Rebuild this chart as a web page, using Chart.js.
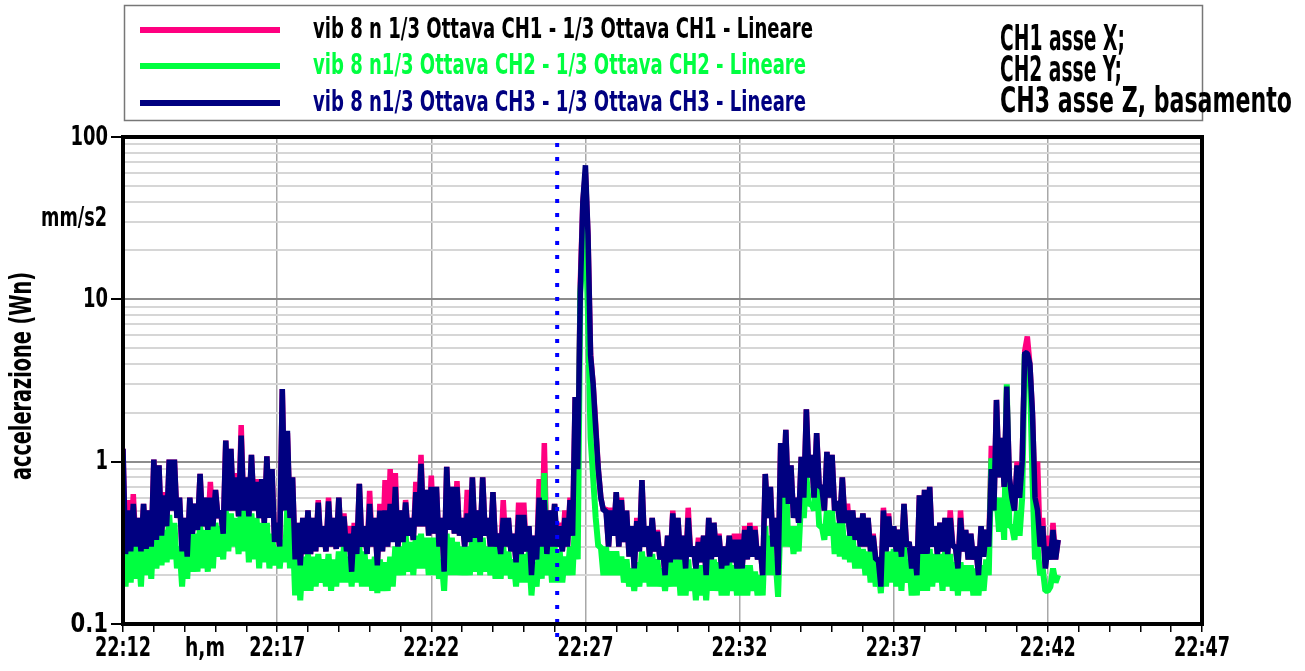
<!DOCTYPE html>
<html>
<head>
<meta charset="utf-8">
<script src="https://cdn.jsdelivr.net/npm/chart.js@4.4.1/dist/chart.umd.min.js"></script>
<style>
  html, body { margin: 0; padding: 0; background: #fff; }
  #wrap { position: relative; width: 1305px; height: 671px; }
</style>
</head>
<body>
<div id="wrap"><canvas id="chart"></canvas></div>
<script>
// campionamento: un valore ogni 5 s a partire dalle 22:12:00
const STEP_SEC = 5;
const MARKER_SEC = 845; // linea tratteggiata ~22:26:05

// CH1 asse X (mm/s2), una riga per minuto
const ch1 = [
  1.2, 0.27, 0.58, 0.28, 0.63, 0.3, 0.45, 0.28, 0.55, 0.29, 0.5, 0.3,
  1.03, 0.33, 0.95, 0.35, 0.65, 0.4, 1.03, 0.5, 1.03, 0.45, 0.6, 0.28,
  0.45, 0.26, 0.6, 0.36, 0.55, 0.38, 0.84, 0.4, 0.6, 0.38, 0.75, 0.4,
  0.67, 0.45, 0.5, 0.36, 1.35, 0.5, 1.2, 0.5, 0.85, 0.46, 1.68, 0.5,
  0.8, 0.46, 1.1, 0.5, 0.78, 0.45, 0.78, 0.42, 1.08, 0.45, 0.9, 0.32,
  0.42, 0.3, 2.8, 0.5, 1.5, 0.45, 0.8, 0.25, 0.42, 0.23, 0.45, 0.27,
  0.5, 0.27, 0.45, 0.28, 0.58, 0.3, 0.4, 0.28, 0.6, 0.3, 0.45, 0.29,
  0.6, 0.3, 0.48, 0.28, 0.4, 0.21, 0.42, 0.27, 0.73, 0.3, 0.4, 0.27,
  0.66, 0.3, 0.45, 0.23, 0.55, 0.28, 0.77, 0.3, 0.9, 0.32, 0.85, 0.3,
  0.5, 0.32, 0.58, 0.35, 0.45, 0.33, 0.75, 0.4, 1.1, 0.4, 0.67, 0.35,
  0.82, 0.36, 0.7, 0.3, 0.45, 0.21, 0.93, 0.38, 0.7, 0.36, 0.76, 0.35,
  0.45, 0.3, 0.67, 0.32, 0.8, 0.34, 0.5, 0.32, 0.8, 0.35, 0.45, 0.3,
  0.65, 0.3, 0.36, 0.27, 0.58, 0.3, 0.45, 0.28, 0.36, 0.24, 0.56, 0.27,
  0.56, 0.28, 0.4, 0.2, 0.35, 0.25, 0.78, 0.3, 1.3, 0.27, 0.5, 0.3,
  0.55, 0.3, 0.42, 0.28, 0.5, 0.3, 0.6, 0.35, 2.5, 0.9, 12.6, 40,
  60, 25, 4.6, 3.0, 1.7, 0.9, 0.6, 0.5, 0.52, 0.3, 0.52, 0.35,
  0.65, 0.3, 0.6, 0.32, 0.5, 0.26, 0.4, 0.22, 0.45, 0.28, 0.77, 0.3,
  0.4, 0.26, 0.45, 0.28, 0.38, 0.25, 0.3, 0.2, 0.35, 0.24, 0.5, 0.25,
  0.45, 0.25, 0.35, 0.22, 0.52, 0.26, 0.3, 0.22, 0.34, 0.24, 0.35, 0.2,
  0.45, 0.25, 0.42, 0.26, 0.36, 0.22, 0.3, 0.23, 0.35, 0.24, 0.36, 0.22,
  0.36, 0.22, 0.4, 0.25, 0.42, 0.26, 0.4, 0.25, 0.3, 0.2, 0.84, 0.45,
  0.7, 0.3, 0.45, 0.2, 1.3, 0.6, 1.57, 0.55, 0.95, 0.45, 0.6, 0.42,
  1.07, 0.6, 2.1, 0.8, 1.1, 0.6, 1.5, 0.7, 0.7, 0.5, 1.15, 0.6,
  1.1, 0.5, 0.57, 0.42, 0.8, 0.42, 0.55, 0.35, 0.5, 0.33, 0.45, 0.3,
  0.48, 0.3, 0.45, 0.28, 0.36, 0.25, 0.25, 0.17, 0.52, 0.28, 0.48, 0.3,
  0.4, 0.28, 0.38, 0.26, 0.55, 0.3, 0.32, 0.22, 0.3, 0.2, 0.62, 0.27,
  0.67, 0.27, 0.7, 0.3, 0.4, 0.27, 0.42, 0.28, 0.45, 0.27, 0.5, 0.3,
  0.3, 0.22, 0.5, 0.28, 0.38, 0.25, 0.36, 0.25, 0.3, 0.2, 0.4, 0.26,
  0.38, 0.3, 1.25, 0.5, 2.4, 0.8, 1.4, 0.7, 2.9, 0.8, 0.6, 0.5,
  1.0, 0.6, 1.0, 4.8, 5.9, 4.0, 2.0, 0.6, 1.0, 0.3, 0.45, 0.22,
  0.35, 0.25, 0.42, 0.25, 0.33
];

// CH2 asse Y
const ch2 = [
  0.38, 0.17, 0.33, 0.18, 0.36, 0.19, 0.3, 0.17, 0.36, 0.2, 0.33, 0.19,
  0.38, 0.22, 0.36, 0.23, 0.38, 0.24, 0.47, 0.25, 0.42, 0.22, 0.3, 0.17,
  0.3, 0.19, 0.38, 0.21, 0.36, 0.21, 0.42, 0.22, 0.38, 0.21, 0.4, 0.22,
  0.42, 0.26, 0.4, 0.25, 0.5, 0.28, 0.48, 0.3, 0.45, 0.27, 0.55, 0.28,
  0.5, 0.24, 0.48, 0.25, 0.45, 0.22, 0.42, 0.24, 0.42, 0.22, 0.36, 0.23,
  0.3, 0.22, 0.33, 0.24, 0.55, 0.22, 0.4, 0.15, 0.28, 0.14, 0.26, 0.16,
  0.27, 0.16, 0.26, 0.17, 0.27, 0.18, 0.25, 0.17, 0.27, 0.16, 0.25, 0.17,
  0.28, 0.18, 0.3, 0.18, 0.26, 0.17, 0.3, 0.18, 0.3, 0.17, 0.28, 0.17,
  0.25, 0.16, 0.26, 0.155, 0.25, 0.16, 0.24, 0.16, 0.26, 0.17, 0.3, 0.2,
  0.3, 0.2, 0.36, 0.21, 0.32, 0.2, 0.35, 0.22, 0.36, 0.22, 0.34, 0.2,
  0.34, 0.2, 0.34, 0.19, 0.25, 0.16, 0.36, 0.2, 0.34, 0.2, 0.32, 0.2,
  0.3, 0.2, 0.3, 0.2, 0.36, 0.21, 0.34, 0.2, 0.34, 0.21, 0.3, 0.2,
  0.3, 0.19, 0.3, 0.19, 0.3, 0.2, 0.28, 0.19, 0.25, 0.17, 0.28, 0.18,
  0.27, 0.18, 0.28, 0.15, 0.24, 0.17, 0.3, 0.19, 0.85, 0.2, 0.3, 0.18,
  0.3, 0.18, 0.28, 0.18, 0.26, 0.2, 0.3, 0.2, 0.45, 0.25, 10.9, 20,
  30, 8, 1.4, 0.8, 0.45, 0.3, 0.3, 0.2, 0.3, 0.2, 0.28, 0.2,
  0.28, 0.2, 0.26, 0.18, 0.25, 0.17, 0.22, 0.16, 0.24, 0.17, 0.28, 0.18,
  0.26, 0.17, 0.27, 0.17, 0.25, 0.17, 0.22, 0.16, 0.24, 0.17, 0.26, 0.17,
  0.25, 0.15, 0.25, 0.15, 0.25, 0.16, 0.22, 0.14, 0.23, 0.15, 0.23, 0.14,
  0.25, 0.16, 0.25, 0.16, 0.24, 0.15, 0.23, 0.15, 0.24, 0.16, 0.23, 0.15,
  0.22, 0.15, 0.23, 0.15, 0.23, 0.16, 0.21, 0.15, 0.2, 0.15, 0.4, 0.2,
  0.35, 0.2, 0.25, 0.147, 0.5, 0.3, 0.81, 0.3, 0.4, 0.27, 0.4, 0.28,
  0.6, 0.45, 0.82, 0.54, 0.55, 0.5, 0.8, 0.4, 0.4, 0.33, 0.5, 0.35,
  0.5, 0.27, 0.42, 0.26, 0.42, 0.25, 0.35, 0.24, 0.35, 0.22, 0.3, 0.22,
  0.29, 0.2, 0.28, 0.18, 0.28, 0.17, 0.22, 0.155, 0.28, 0.17, 0.28, 0.18,
  0.29, 0.17, 0.28, 0.16, 0.3, 0.18, 0.25, 0.15, 0.22, 0.15, 0.28, 0.16,
  0.27, 0.16, 0.29, 0.17, 0.27, 0.18, 0.27, 0.16, 0.28, 0.17, 0.27, 0.16,
  0.24, 0.15, 0.24, 0.16, 0.23, 0.16, 0.23, 0.15, 0.22, 0.15, 0.23, 0.16,
  0.25, 0.2, 1.05, 0.5, 0.6, 0.37, 0.6, 0.33, 3.0, 0.4, 0.4, 0.33,
  0.5, 0.35, 0.6, 4.6, 4.0, 3.5, 0.8, 0.25, 0.3, 0.2, 0.22, 0.16,
  0.16, 0.17, 0.22, 0.18, 0.2
];

// CH3 asse Z, basamento
const ch3 = [
  1.2, 0.27, 0.5, 0.28, 0.55, 0.3, 0.45, 0.28, 0.55, 0.29, 0.5, 0.3,
  1.03, 0.33, 0.95, 0.35, 0.62, 0.4, 1.03, 0.5, 1.03, 0.45, 0.6, 0.28,
  0.45, 0.26, 0.6, 0.36, 0.55, 0.38, 0.84, 0.4, 0.6, 0.38, 0.6, 0.4,
  0.67, 0.45, 0.5, 0.36, 1.35, 0.5, 1.2, 0.5, 0.8, 0.46, 1.45, 0.5,
  0.8, 0.46, 1.1, 0.5, 0.75, 0.45, 0.78, 0.42, 1.08, 0.45, 0.9, 0.32,
  0.42, 0.3, 2.8, 0.5, 1.55, 0.45, 0.8, 0.25, 0.42, 0.23, 0.45, 0.27,
  0.5, 0.27, 0.45, 0.28, 0.56, 0.3, 0.4, 0.28, 0.57, 0.3, 0.45, 0.29,
  0.6, 0.3, 0.46, 0.28, 0.36, 0.21, 0.4, 0.27, 0.73, 0.3, 0.4, 0.27,
  0.55, 0.3, 0.45, 0.23, 0.5, 0.28, 0.5, 0.3, 0.55, 0.32, 0.7, 0.3,
  0.5, 0.32, 0.56, 0.35, 0.45, 0.33, 0.65, 0.4, 0.97, 0.4, 0.67, 0.35,
  0.7, 0.36, 0.7, 0.3, 0.45, 0.21, 0.93, 0.38, 0.7, 0.36, 0.7, 0.35,
  0.45, 0.3, 0.48, 0.32, 0.8, 0.34, 0.5, 0.32, 0.8, 0.35, 0.45, 0.3,
  0.65, 0.3, 0.36, 0.27, 0.45, 0.3, 0.45, 0.28, 0.36, 0.24, 0.47, 0.27,
  0.47, 0.28, 0.4, 0.2, 0.35, 0.25, 0.6, 0.3, 0.58, 0.27, 0.5, 0.3,
  0.55, 0.3, 0.4, 0.28, 0.45, 0.3, 0.58, 0.35, 2.5, 0.9, 11, 40,
  67, 25, 4.5, 3.0, 1.6, 0.9, 0.6, 0.5, 0.5, 0.3, 0.5, 0.35,
  0.65, 0.3, 0.58, 0.32, 0.5, 0.26, 0.4, 0.22, 0.43, 0.28, 0.77, 0.3,
  0.4, 0.26, 0.45, 0.28, 0.37, 0.25, 0.3, 0.2, 0.35, 0.24, 0.48, 0.25,
  0.45, 0.25, 0.35, 0.22, 0.45, 0.26, 0.3, 0.22, 0.32, 0.24, 0.35, 0.2,
  0.45, 0.25, 0.42, 0.26, 0.35, 0.22, 0.3, 0.23, 0.35, 0.24, 0.33, 0.22,
  0.33, 0.22, 0.38, 0.25, 0.4, 0.26, 0.38, 0.25, 0.3, 0.2, 0.84, 0.45,
  0.7, 0.3, 0.45, 0.2, 1.3, 0.6, 1.57, 0.55, 0.95, 0.45, 0.6, 0.42,
  1.07, 0.6, 2.1, 0.8, 1.1, 0.6, 1.5, 0.7, 0.7, 0.5, 1.15, 0.6,
  1.1, 0.5, 0.57, 0.42, 0.8, 0.42, 0.5, 0.35, 0.5, 0.33, 0.45, 0.3,
  0.48, 0.3, 0.45, 0.28, 0.35, 0.25, 0.25, 0.17, 0.5, 0.28, 0.46, 0.3,
  0.4, 0.28, 0.38, 0.26, 0.55, 0.3, 0.32, 0.22, 0.3, 0.2, 0.62, 0.27,
  0.67, 0.27, 0.7, 0.3, 0.4, 0.27, 0.42, 0.28, 0.45, 0.27, 0.45, 0.3,
  0.3, 0.22, 0.45, 0.28, 0.38, 0.25, 0.36, 0.25, 0.3, 0.2, 0.4, 0.26,
  0.38, 0.3, 0.9, 0.5, 2.4, 0.8, 1.4, 0.7, 2.9, 0.8, 0.6, 0.5,
  0.95, 0.6, 1.0, 4.7, 4.65, 4.0, 2.0, 0.6, 0.5, 0.3, 0.4, 0.22,
  0.3, 0.25, 0.38, 0.25, 0.33
];

// asse y (log): linee di griglia e valori etichettati
const yGrid = [
  0.1, 0.2, 0.3, 0.4, 0.5, 0.6, 0.7, 0.8, 0.9,
  1, 2, 3, 4, 5, 6, 7, 8, 9,
  10, 20, 30, 40, 50, 60, 70, 80, 90, 100
];
const yLabels = [0.1, 1, 10, 100];

// asse x: secondi dall'inizio delle etichette ogni 5 minuti
const xTickSec = [0, 300, 600, 900, 1200, 1500, 1800, 2100];
const xLabels = ["22:12", "22:17", "22:22", "22:27", "22:32", "22:37", "22:42", "22:47"];

const legendLabels = [
  "vib 8 n 1/3 Ottava CH1 - 1/3 Ottava CH1 - Lineare",
  "vib 8 n1/3 Ottava CH2 - 1/3 Ottava CH2 - Lineare",
  "vib 8 n1/3 Ottava CH3 - 1/3 Ottava CH3 - Lineare"
];
const noteLabels = ["CH1 asse X;", "CH2 asse Y;", "CH3 asse Z, basamento"];

const COLORS = ["#ff0080", "#00ff40", "#000080"];
const TEXT_COLORS = ["#000000", "#00ff40", "#000080"];
const FONT = '"DejaVu Sans Condensed", "DejaVu Sans", sans-serif';

function toPoints(arr) {
  return arr.map((v, i) => ({ x: i * STEP_SEC, y: v }));
}

function isMajor(v) {
  return yLabels.some((m) => Math.abs(m - v) < 1e-9);
}

// cornice, linea tratteggiata, legenda, etichette
const overlay = {
  id: "overlay",
  afterDatasetsDraw(chart) {
    const { ctx, chartArea: a, scales } = chart;
    const mx = scales.x.getPixelForValue(MARKER_SEC);

    ctx.save();
    ctx.strokeStyle = "#0000ff";
    ctx.lineWidth = 4;
    ctx.setLineDash([4, 10]);
    ctx.beginPath();
    ctx.moveTo(mx, a.top + 6);
    ctx.lineTo(mx, a.bottom + 16);
    ctx.stroke();
    ctx.setLineDash([]);

    ctx.strokeStyle = "#000";
    ctx.lineWidth = 4;
    ctx.strokeRect(a.left, a.top, a.right - a.left, a.bottom - a.top);
    ctx.restore();
  },
  afterDraw(chart) {
    const { ctx, chartArea: a, scales } = chart;
    ctx.save();
    ctx.fillStyle = "#000";
    ctx.textBaseline = "middle";

    // etichette asse y
    ctx.textAlign = "right";
    ctx.font = "bold 26px " + FONT;
    yLabels.forEach((v) => {
      const t = String(v);
      ctx.fillText(t, 108, scales.y.getPixelForValue(v) + 1, t.length * 12.5);
    });

    // etichette asse x
    ctx.textAlign = "center";
    ctx.font = "bold 27px " + FONT;
    xTickSec.forEach((s, i) => {
      ctx.fillText(xLabels[i], scales.x.getPixelForValue(s), 649, 56);
    });
    ctx.fillText("h,m", 205, 649, 40);

    // riquadro legenda
    ctx.strokeStyle = "#777";
    ctx.lineWidth = 1.5;
    ctx.strokeRect(124.5, 5.5, a.right - 124, 115);

    const rowsY = [30, 66, 103];
    ctx.textAlign = "left";
    legendLabels.forEach((label, i) => {
      ctx.strokeStyle = COLORS[i];
      ctx.lineWidth = 6;
      ctx.beginPath();
      ctx.moveTo(140, rowsY[i]);
      ctx.lineTo(280, rowsY[i]);
      ctx.stroke();
      ctx.fillStyle = TEXT_COLORS[i];
      ctx.font = "bold 28px " + FONT;
      ctx.fillText(label, 313, rowsY[i] + 1, i === 0 ? 500 : 493);
    });

    const notesY = [41, 72, 103];
    const notesW = [125, 122, 292];
    ctx.fillStyle = "#000";
    ctx.font = "bold 35px " + FONT;
    noteLabels.forEach((t, i) => ctx.fillText(t, 1000, notesY[i], notesW[i]));

    // unità e titolo asse y
    ctx.font = "bold 26px " + FONT;
    ctx.textAlign = "right";
    ctx.fillText("mm/s2", 107, 219, 66);

    ctx.translate(23, 376);
    ctx.rotate(-Math.PI / 2);
    ctx.textAlign = "center";
    ctx.font = "bold 31px " + FONT;
    ctx.fillText("accelerazione (Wn)", 0, 0, 208);

    ctx.restore();
  }
};

new Chart(document.getElementById("chart"), {
  type: "line",
  data: {
    datasets: [
      { label: legendLabels[2], data: toPoints(ch3), borderColor: COLORS[2], borderWidth: 5.5, order: 1 },
      { label: legendLabels[1], data: toPoints(ch2), borderColor: COLORS[1], borderWidth: 6, order: 2 },
      { label: legendLabels[0], data: toPoints(ch1), borderColor: COLORS[0], borderWidth: 5.5, order: 3 }
    ]
  },
  options: {
    responsive: true,
    maintainAspectRatio: false,
    animation: false,
    events: [],
    layout: { padding: { top: 137, right: 103, left: 0, bottom: 0 } },
    elements: {
      line: { tension: 0, fill: false, borderJoinStyle: "bevel", borderCapStyle: "butt" },
      point: { radius: 0 }
    },
    plugins: { legend: { display: false }, tooltip: { enabled: false } },
    scales: {
      x: {
        type: "linear",
        min: 0,
        max: 2100,
        afterFit: (s) => { s.height = 47; },
        afterBuildTicks: (s) => {
          const t = [];
          for (let v = 0; v <= 2100; v += 60) t.push({ value: v });
          s.ticks = t;
        },
        border: { display: false },
        grid: {
          color: (c) => (c.tick && c.tick.value % 300 === 0 ? "#a8a8a8" : "rgba(0,0,0,0)"),
          lineWidth: 1.5,
          tickColor: "#000",
          tickLength: 8,
          tickWidth: 1.5
        },
        ticks: { display: false }
      },
      y: {
        type: "logarithmic",
        min: 0.1,
        max: 100,
        afterFit: (s) => { s.width = 123; },
        afterBuildTicks: (s) => { s.ticks = yGrid.map((v) => ({ value: v })); },
        border: { display: false },
        grid: {
          color: (c) => (c.tick && isMajor(c.tick.value) ? "#8c8c8c" : "#d6d6d6"),
          lineWidth: 2,
          tickColor: (c) => (c.tick && isMajor(c.tick.value) ? "#000" : "rgba(0,0,0,0)"),
          tickLength: 12,
          tickWidth: 2
        },
        ticks: { display: false }
      }
    }
  },
  plugins: [overlay]
});
</script>
</body>
</html>
